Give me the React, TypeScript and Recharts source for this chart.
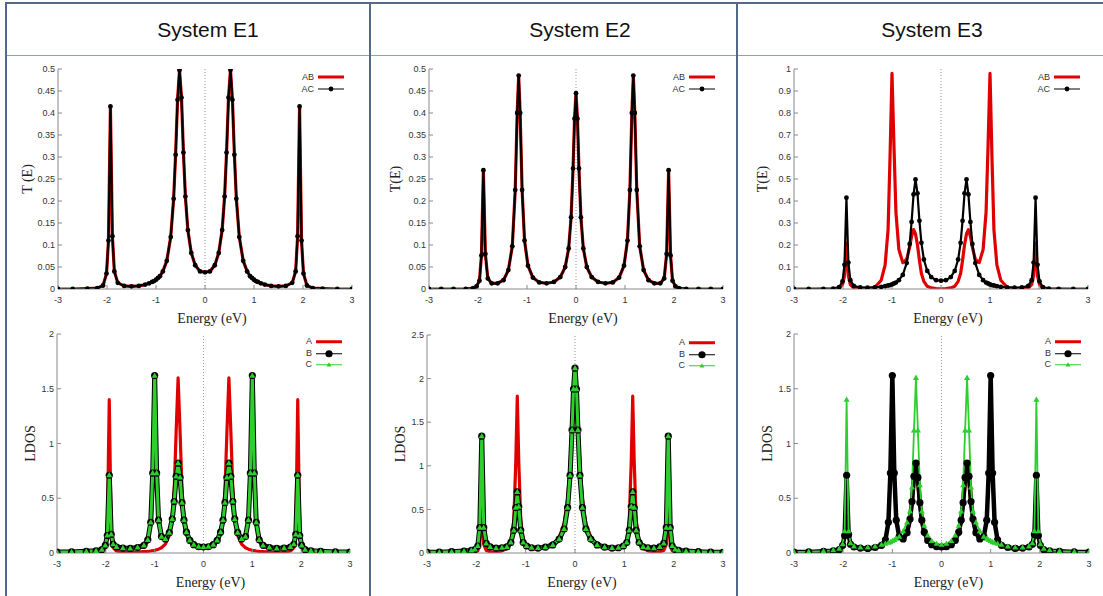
import React from 'react';
import { LineChart, Line, XAxis, YAxis, ReferenceLine, Legend } from 'recharts';

const SANS = '"Liberation Sans", Arial, Helvetica, sans-serif';
const SERIF = '"Liberation Serif", "Times New Roman", Times, serif';
const RED = '#e00000';
const GREEN = '#2ccf2c';
const BLACK = '#000000';
const FRAME = '#8a8a8a';

const titles = ['System E1', 'System E2', 'System E3'];
const energyTicks = [-3, -2, -1, 0, 1, 2, 3];
const tTicksHalf = [0, 0.05, 0.1, 0.15, 0.2, 0.25, 0.3, 0.35, 0.4, 0.45, 0.5];
const tTicksOne = [0, 0.1, 0.2, 0.3, 0.4, 0.5, 0.6, 0.7, 0.8, 0.9, 1];
const ldosTicks2 = [0, 0.5, 1, 1.5, 2];
const ldosTicks25 = [0, 0.5, 1, 1.5, 2, 2.5];

// energy grids (eV)
const energyE13 = [-3, -2.7, -2.4, -2.2, -2.08, -2.01, -1.97, -1.93, -1.89, -1.85, -1.78, -1.65, -1.5, -1.35, -1.22, -1.14, -1.08, -1.04, -1, -0.96, -0.92, -0.86, -0.78, -0.7, -0.64, -0.6, -0.56, -0.52, -0.48, -0.44, -0.4, -0.35, -0.28, -0.2, -0.1, 0, 0.1, 0.2, 0.28, 0.35, 0.4, 0.44, 0.48, 0.52, 0.56, 0.6, 0.64, 0.7, 0.78, 0.86, 0.92, 0.96, 1, 1.04, 1.08, 1.14, 1.22, 1.35, 1.5, 1.65, 1.78, 1.85, 1.89, 1.93, 1.97, 2.01, 2.08, 2.2, 2.4, 2.7, 3];
const energyE2 = [-3, -2.75, -2.5, -2.25, -2.1, -2.03, -1.97, -1.93, -1.89, -1.85, -1.8, -1.72, -1.6, -1.48, -1.38, -1.3, -1.24, -1.2, -1.17, -1.14, -1.1, -1.05, -0.98, -0.88, -0.75, -0.6, -0.45, -0.32, -0.22, -0.15, -0.1, -0.06, -0.03, 0, 0.03, 0.06, 0.1, 0.15, 0.22, 0.32, 0.45, 0.6, 0.75, 0.88, 0.98, 1.05, 1.1, 1.14, 1.17, 1.2, 1.24, 1.3, 1.38, 1.48, 1.6, 1.72, 1.8, 1.85, 1.89, 1.93, 1.97, 2.03, 2.1, 2.25, 2.5, 2.75, 3];

// System E1
const tE1AB = [0, 0, 0.001, 0.002, 0.008, 0.035, 0.11, 0.415, 0.12, 0.04, 0.014, 0.007, 0.006, 0.007, 0.01, 0.013, 0.016, 0.018, 0.021, 0.025, 0.029, 0.04, 0.064, 0.118, 0.205, 0.305, 0.43, 0.498, 0.435, 0.31, 0.21, 0.134, 0.082, 0.054, 0.04, 0.038, 0.04, 0.054, 0.082, 0.134, 0.21, 0.31, 0.435, 0.498, 0.43, 0.305, 0.205, 0.118, 0.064, 0.04, 0.029, 0.025, 0.021, 0.018, 0.016, 0.013, 0.01, 0.007, 0.006, 0.007, 0.014, 0.04, 0.12, 0.415, 0.11, 0.035, 0.008, 0.002, 0.001, 0, 0];
const tE1AC = [0, 0, 0.001, 0.002, 0.008, 0.035, 0.11, 0.415, 0.12, 0.04, 0.014, 0.007, 0.006, 0.007, 0.01, 0.013, 0.016, 0.018, 0.021, 0.025, 0.029, 0.04, 0.064, 0.118, 0.205, 0.305, 0.43, 0.498, 0.435, 0.31, 0.21, 0.134, 0.082, 0.054, 0.04, 0.038, 0.04, 0.054, 0.082, 0.134, 0.21, 0.31, 0.435, 0.498, 0.43, 0.305, 0.205, 0.118, 0.064, 0.04, 0.029, 0.025, 0.021, 0.018, 0.016, 0.013, 0.01, 0.007, 0.006, 0.007, 0.014, 0.04, 0.12, 0.415, 0.11, 0.035, 0.008, 0.002, 0.001, 0, 0];
const ldosE1A = [0, 0.001, 0.002, 0.005, 0.015, 0.05, 0.17, 1.4, 0.17, 0.05, 0.018, 0.009, 0.006, 0.008, 0.012, 0.015, 0.018, 0.021, 0.025, 0.03, 0.035, 0.048, 0.081, 0.16, 0.32, 0.58, 1.11, 1.6, 1.11, 0.58, 0.32, 0.18, 0.1, 0.064, 0.047, 0.042, 0.047, 0.064, 0.1, 0.18, 0.32, 0.58, 1.11, 1.6, 1.11, 0.58, 0.32, 0.16, 0.081, 0.048, 0.035, 0.03, 0.025, 0.021, 0.018, 0.015, 0.012, 0.008, 0.006, 0.009, 0.018, 0.05, 0.17, 1.4, 0.17, 0.05, 0.015, 0.005, 0.002, 0.001, 0];
const ldosE1B = [0.008, 0.01, 0.015, 0.02, 0.03, 0.07, 0.16, 0.71, 0.17, 0.08, 0.055, 0.045, 0.042, 0.05, 0.07, 0.12, 0.28, 0.73, 1.62, 0.73, 0.3, 0.15, 0.128, 0.186, 0.31, 0.47, 0.7, 0.82, 0.69, 0.46, 0.3, 0.19, 0.115, 0.076, 0.057, 0.055, 0.057, 0.076, 0.115, 0.19, 0.3, 0.46, 0.69, 0.82, 0.7, 0.47, 0.31, 0.186, 0.128, 0.15, 0.3, 0.73, 1.62, 0.73, 0.28, 0.12, 0.07, 0.05, 0.042, 0.045, 0.055, 0.08, 0.17, 0.71, 0.16, 0.07, 0.03, 0.02, 0.015, 0.01, 0.008];
const ldosE1C = [0.008, 0.01, 0.015, 0.02, 0.03, 0.07, 0.16, 0.71, 0.17, 0.08, 0.055, 0.045, 0.042, 0.05, 0.07, 0.12, 0.28, 0.73, 1.62, 0.73, 0.3, 0.15, 0.128, 0.186, 0.31, 0.47, 0.7, 0.82, 0.69, 0.46, 0.3, 0.19, 0.115, 0.076, 0.057, 0.055, 0.057, 0.076, 0.115, 0.19, 0.3, 0.46, 0.69, 0.82, 0.7, 0.47, 0.31, 0.186, 0.128, 0.15, 0.3, 0.73, 1.62, 0.73, 0.28, 0.12, 0.07, 0.05, 0.042, 0.045, 0.055, 0.08, 0.17, 0.71, 0.16, 0.07, 0.03, 0.02, 0.015, 0.01, 0.008];

// System E2
const tE2AB = [0, 0, 0, 0, 0.002, 0.006, 0.019, 0.076, 0.27, 0.08, 0.024, 0.013, 0.013, 0.02, 0.043, 0.097, 0.225, 0.4, 0.485, 0.4, 0.225, 0.11, 0.053, 0.026, 0.015, 0.013, 0.016, 0.027, 0.05, 0.092, 0.163, 0.274, 0.387, 0.445, 0.387, 0.274, 0.163, 0.092, 0.05, 0.027, 0.016, 0.013, 0.015, 0.026, 0.053, 0.11, 0.225, 0.4, 0.485, 0.4, 0.225, 0.097, 0.043, 0.02, 0.013, 0.013, 0.024, 0.08, 0.27, 0.076, 0.019, 0.006, 0.002, 0, 0, 0, 0];
const tE2AC = [0, 0, 0, 0, 0.002, 0.006, 0.019, 0.076, 0.27, 0.08, 0.024, 0.013, 0.013, 0.02, 0.043, 0.097, 0.225, 0.4, 0.485, 0.4, 0.225, 0.11, 0.053, 0.026, 0.015, 0.013, 0.016, 0.027, 0.05, 0.092, 0.163, 0.274, 0.387, 0.445, 0.387, 0.274, 0.163, 0.092, 0.05, 0.027, 0.016, 0.013, 0.015, 0.026, 0.053, 0.11, 0.225, 0.4, 0.485, 0.4, 0.225, 0.097, 0.043, 0.02, 0.013, 0.013, 0.024, 0.08, 0.27, 0.076, 0.019, 0.006, 0.002, 0, 0, 0, 0];
const ldosE2A = [0, 0, 0, 0, 0.003, 0.008, 0.025, 0.1, 0.52, 0.1, 0.03, 0.014, 0.013, 0.025, 0.05, 0.13, 0.38, 1.05, 1.8, 1.05, 0.38, 0.16, 0.08, 0.05, 0.047, 0.06, 0.094, 0.18, 0.34, 0.62, 1.0, 1.47, 1.83, 2.0, 1.83, 1.47, 1.0, 0.62, 0.34, 0.18, 0.094, 0.06, 0.047, 0.05, 0.08, 0.16, 0.38, 1.05, 1.8, 1.05, 0.38, 0.13, 0.05, 0.025, 0.013, 0.014, 0.03, 0.1, 0.52, 0.1, 0.025, 0.008, 0.003, 0, 0, 0, 0];
const ldosE2B = [0.008, 0.01, 0.015, 0.022, 0.03, 0.04, 0.08, 0.29, 1.34, 0.29, 0.11, 0.07, 0.055, 0.06, 0.07, 0.12, 0.26, 0.52, 0.7, 0.53, 0.26, 0.12, 0.08, 0.06, 0.057, 0.067, 0.093, 0.16, 0.275, 0.52, 0.89, 1.41, 1.88, 2.12, 1.88, 1.41, 0.89, 0.52, 0.275, 0.16, 0.093, 0.067, 0.057, 0.06, 0.08, 0.12, 0.26, 0.53, 0.7, 0.52, 0.26, 0.12, 0.07, 0.06, 0.055, 0.07, 0.11, 0.29, 1.34, 0.29, 0.08, 0.04, 0.03, 0.022, 0.015, 0.01, 0.008];
const ldosE2C = [0.008, 0.01, 0.015, 0.022, 0.03, 0.04, 0.08, 0.29, 1.34, 0.29, 0.11, 0.07, 0.055, 0.06, 0.07, 0.12, 0.26, 0.52, 0.7, 0.53, 0.26, 0.12, 0.08, 0.06, 0.057, 0.067, 0.093, 0.16, 0.275, 0.52, 0.89, 1.41, 1.88, 2.12, 1.88, 1.41, 0.89, 0.52, 0.275, 0.16, 0.093, 0.067, 0.057, 0.06, 0.08, 0.12, 0.26, 0.53, 0.7, 0.52, 0.26, 0.12, 0.07, 0.06, 0.055, 0.07, 0.11, 0.29, 1.34, 0.29, 0.08, 0.04, 0.03, 0.022, 0.015, 0.01, 0.008];

// System E3
const tE3AB = [0, 0, 0, 0.001, 0.005, 0.02, 0.06, 0.21, 0.06, 0.02, 0.005, 0.002, 0.002, 0.008, 0.04, 0.11, 0.27, 0.6, 0.98, 0.65, 0.35, 0.18, 0.12, 0.135, 0.19, 0.24, 0.27, 0.25, 0.2, 0.13, 0.07, 0.035, 0.012, 0.005, 0.002, 0.001, 0.002, 0.005, 0.012, 0.035, 0.07, 0.13, 0.2, 0.25, 0.27, 0.24, 0.19, 0.135, 0.12, 0.18, 0.35, 0.65, 0.98, 0.6, 0.27, 0.11, 0.04, 0.008, 0.002, 0.002, 0.005, 0.02, 0.06, 0.21, 0.06, 0.02, 0.005, 0.001, 0, 0, 0];
const tE3AC = [0, 0, 0.001, 0.002, 0.008, 0.035, 0.11, 0.415, 0.12, 0.04, 0.014, 0.007, 0.006, 0.007, 0.01, 0.013, 0.016, 0.018, 0.021, 0.025, 0.029, 0.04, 0.064, 0.118, 0.205, 0.305, 0.43, 0.498, 0.435, 0.31, 0.21, 0.134, 0.082, 0.054, 0.04, 0.038, 0.04, 0.054, 0.082, 0.134, 0.21, 0.31, 0.435, 0.498, 0.43, 0.305, 0.205, 0.118, 0.064, 0.04, 0.029, 0.025, 0.021, 0.018, 0.016, 0.013, 0.01, 0.007, 0.006, 0.007, 0.014, 0.04, 0.12, 0.415, 0.11, 0.035, 0.008, 0.002, 0.001, 0, 0];
const ldosE3A = [0.004, 0.006, 0.01, 0.015, 0.025, 0.06, 0.15, 0.62, 0.16, 0.075, 0.05, 0.04, 0.038, 0.045, 0.065, 0.12, 0.28, 0.72, 1.6, 0.72, 0.3, 0.15, 0.125, 0.18, 0.29, 0.44, 0.65, 0.76, 0.62, 0.43, 0.28, 0.18, 0.11, 0.074, 0.055, 0.05, 0.055, 0.074, 0.11, 0.18, 0.28, 0.43, 0.62, 0.76, 0.65, 0.44, 0.29, 0.18, 0.125, 0.15, 0.3, 0.72, 1.6, 0.72, 0.28, 0.12, 0.065, 0.045, 0.038, 0.04, 0.05, 0.075, 0.16, 0.62, 0.15, 0.06, 0.025, 0.015, 0.01, 0.006, 0.004];
const ldosE3B = [0.008, 0.01, 0.015, 0.02, 0.03, 0.07, 0.16, 0.71, 0.17, 0.08, 0.055, 0.045, 0.042, 0.05, 0.07, 0.12, 0.28, 0.73, 1.62, 0.73, 0.3, 0.15, 0.128, 0.186, 0.31, 0.47, 0.7, 0.82, 0.69, 0.46, 0.3, 0.19, 0.115, 0.076, 0.057, 0.055, 0.057, 0.076, 0.115, 0.19, 0.3, 0.46, 0.69, 0.82, 0.7, 0.47, 0.31, 0.186, 0.128, 0.15, 0.3, 0.73, 1.62, 0.73, 0.28, 0.12, 0.07, 0.05, 0.042, 0.045, 0.055, 0.08, 0.17, 0.71, 0.16, 0.07, 0.03, 0.02, 0.015, 0.01, 0.008];
const ldosE3C = [0.01, 0.012, 0.018, 0.025, 0.04, 0.08, 0.2, 1.4, 0.2, 0.09, 0.06, 0.05, 0.05, 0.06, 0.075, 0.085, 0.095, 0.1, 0.11, 0.12, 0.13, 0.15, 0.2, 0.28, 0.38, 0.6, 1.12, 1.6, 1.12, 0.62, 0.38, 0.25, 0.16, 0.11, 0.085, 0.075, 0.085, 0.11, 0.16, 0.25, 0.38, 0.62, 1.12, 1.6, 1.12, 0.6, 0.38, 0.28, 0.2, 0.15, 0.13, 0.12, 0.11, 0.1, 0.095, 0.085, 0.075, 0.06, 0.05, 0.05, 0.06, 0.09, 0.2, 1.4, 0.2, 0.08, 0.04, 0.025, 0.018, 0.012, 0.01];

type Marker = 'none' | 'circle' | 'triangle';
interface SeriesCfg {
  name: string;
  values: number[];
  color: string;
  width: number;
  marker: Marker;
  size: number;
}
interface PanelCfg {
  plotLeft: number;
  plotTop: number;
  pw: number;
  ph: number;
  energy: number[];
  yMax: number;
  yTicks: number[];
  yLabel: string;
  yLabelGap: number;
  series: SeriesCfg[];
  legendRowH: number;
}

const YW = 50;
const MT = 10;
const MR = 12;
const XH = 45;

const tSeries = (ab: number[], ac: number[]): SeriesCfg[] => [
  { name: 'AB', values: ab, color: RED, width: 3.2, marker: 'none', size: 0 },
  { name: 'AC', values: ac, color: BLACK, width: 2.2, marker: 'circle', size: 2.4 },
];
const ldosSeries = (a: number[], b: number[], c: number[], bw: number, cw: number): SeriesCfg[] => [
  { name: 'A', values: a, color: RED, width: 3.2, marker: 'none', size: 0 },
  { name: 'B', values: b, color: BLACK, width: bw, marker: 'circle', size: 3.6 },
  { name: 'C', values: c, color: GREEN, width: cw, marker: 'triangle', size: 3.2 },
];

const panels: PanelCfg[] = [
  { plotLeft: 58, plotTop: 69, pw: 294, ph: 220, energy: energyE13, yMax: 0.5, yTicks: tTicksHalf, yLabel: 'T (E)', yLabelGap: 31, series: tSeries(tE1AB, tE1AC), legendRowH: 12 },
  { plotLeft: 57, plotTop: 334, pw: 293, ph: 219, energy: energyE13, yMax: 2, yTicks: ldosTicks2, yLabel: 'LDOS', yLabelGap: 27, series: ldosSeries(ldosE1A, ldosE1B, ldosE1C, 5, 3), legendRowH: 11.5 },
  { plotLeft: 429, plotTop: 69, pw: 294, ph: 220, energy: energyE2, yMax: 0.5, yTicks: tTicksHalf, yLabel: 'T(E)', yLabelGap: 34, series: tSeries(tE2AB, tE2AC), legendRowH: 12 },
  { plotLeft: 427, plotTop: 335, pw: 296, ph: 218, energy: energyE2, yMax: 2.5, yTicks: ldosTicks25, yLabel: 'LDOS', yLabelGap: 27, series: ldosSeries(ldosE2A, ldosE2B, ldosE2C, 5, 3), legendRowH: 11.5 },
  { plotLeft: 794, plotTop: 69, pw: 294, ph: 220, energy: energyE13, yMax: 1, yTicks: tTicksOne, yLabel: 'T(E)', yLabelGap: 32, series: tSeries(tE3AB, tE3AC), legendRowH: 12 },
  { plotLeft: 794, plotTop: 334, pw: 295, ph: 219, energy: energyE13, yMax: 2, yTicks: ldosTicks2, yLabel: 'LDOS', yLabelGap: 27, series: ldosSeries(ldosE3A, ldosE3B, ldosE3C, 4.5, 1.8), legendRowH: 11.5 },
];

function markerShape(marker: Marker, cx: number, cy: number, size: number, color: string, key?: string) {
  if (marker === 'circle') return <circle key={key} cx={cx} cy={cy} r={size} fill={color} />;
  if (marker === 'triangle')
    return (
      <polygon
        key={key}
        points={`${cx},${cy - size} ${cx - size * 0.95},${cy + size * 0.65} ${cx + size * 0.95},${cy + size * 0.65}`}
        fill={color}
      />
    );
  return null;
}

function makeDot(s: SeriesCfg) {
  if (s.marker === 'none') return false;
  return (p: any) => {
    const key = `d-${s.name}-${p.index}`;
    if (p.cx == null || p.cy == null) return <g key={key} />;
    return markerShape(s.marker, p.cx, p.cy, s.size, s.color, key) as any;
  };
}

function LegendBox({ series, rowH }: { series: SeriesCfg[]; rowH: number }) {
  return (
    <div style={{ fontFamily: SANS, fontSize: 9, color: '#333' }}>
      {series.map((s) => (
        <div key={s.name} style={{ display: 'flex', alignItems: 'center', height: rowH }}>
          <span style={{ width: 34, textAlign: 'right', paddingRight: 3, lineHeight: `${rowH}px` }}>{s.name}</span>
          <svg width={28} height={rowH} style={{ display: 'block' }}>
            <line x1={1} x2={27} y1={rowH / 2} y2={rowH / 2} stroke={s.color} strokeWidth={s.marker === 'none' ? 3 : 1} />
            {markerShape(s.marker, 14, rowH / 2, s.marker === 'circle' ? Math.max(2.4, s.size) : 2.6, s.color)}
          </svg>
        </div>
      ))}
    </div>
  );
}

function Panel({ cfg }: { cfg: PanelCfg }) {
  const data = cfg.energy.map((e, i) => {
    const row: Record<string, number> = { e };
    cfg.series.forEach((s, k) => {
      row[`s${k}`] = s.values[i];
    });
    return row;
  });
  const width = YW + cfg.pw + MR;
  const height = MT + cfg.ph + XH;
  const tickStyle = { fill: '#333', fontSize: 9, fontFamily: SANS };
  return (
    <div style={{ position: 'absolute', left: cfg.plotLeft - YW, top: cfg.plotTop - MT }}>
      <LineChart width={width} height={height} data={data} margin={{ top: MT, right: MR, bottom: 0, left: 0 }}>
        <XAxis
          dataKey="e"
          type="number"
          domain={[-3, 3]}
          ticks={energyTicks}
          interval={0}
          allowDataOverflow
          height={XH}
          tickSize={-4}
          tickMargin={12}
          stroke={FRAME}
          tick={tickStyle}
          label={{ value: 'Energy (eV)', position: 'insideTop', offset: 24, dx: 7, fill: '#222', fontSize: 14, fontFamily: SERIF }}
        />
        <YAxis
          type="number"
          domain={[0, cfg.yMax]}
          ticks={cfg.yTicks}
          interval={0}
          allowDataOverflow
          width={YW}
          tickSize={-4}
          tickMargin={7}
          stroke={FRAME}
          tick={tickStyle}
          label={{ value: cfg.yLabel, angle: -90, position: 'insideLeft', offset: YW - cfg.yLabelGap, fill: '#222', fontSize: 14, fontFamily: SERIF, style: { textAnchor: 'middle' } }}
        />
        <XAxis xAxisId="top" orientation="top" type="number" domain={[-3, 3]} ticks={energyTicks} interval={0} allowDataOverflow height={0} tickSize={-4} tick={false} stroke={FRAME} />
        <YAxis yAxisId="right" orientation="right" type="number" domain={[0, cfg.yMax]} ticks={cfg.yTicks} interval={0} allowDataOverflow width={0} tickSize={-4} tick={false} stroke={FRAME} />
        <ReferenceLine x={0} stroke="#999" strokeDasharray="1 2" strokeWidth={1} />
        {cfg.series.map((s, k) => (
          <Line
            key={s.name}
            type="linear"
            dataKey={`s${k}`}
            name={s.name}
            stroke={s.color}
            strokeWidth={s.width}
            strokeLinejoin="round"
            dot={makeDot(s) as any}
            activeDot={false}
            isAnimationActive={false}
          />
        ))}
        <Legend
          layout="horizontal"
          verticalAlign="middle"
          align="center"
          content={() => <LegendBox series={cfg.series} rowH={cfg.legendRowH} />}
          wrapperStyle={{ left: YW + cfg.pw - 72, top: MT + 2, width: 70, height: cfg.series.length * cfg.legendRowH }}
        />
      </LineChart>
    </div>
  );
}

const titleCenters = [208, 580, 932];
const colLines = [5.5, 369.5, 736.5];

export default function App() {
  return (
    <div style={{ position: 'absolute', left: 0, top: 0, width: 1103, height: 596, background: '#fff', overflow: 'hidden' }}>
      {/* table frame */}
      <div style={{ position: 'absolute', left: 5, top: 2, width: 1098, height: 2, background: '#4f6a8c' }} />
      <div style={{ position: 'absolute', left: 5, top: 55, width: 1098, height: 1, background: '#8da2bb' }} />
      {colLines.map((x) => (
        <div key={x} style={{ position: 'absolute', left: x - 0.5, top: 2, width: 2, height: 594, background: '#52698a' }} />
      ))}
      {titles.map((t, i) => (
        <div
          key={t}
          style={{ position: 'absolute', left: titleCenters[i] - 150, top: 17, width: 300, height: 26, lineHeight: '26px', textAlign: 'center', fontFamily: SANS, fontSize: 21, color: '#111' }}
        >
          {t}
        </div>
      ))}
      {panels.map((p, i) => (
        <Panel key={i} cfg={p} />
      ))}
    </div>
  );
}
